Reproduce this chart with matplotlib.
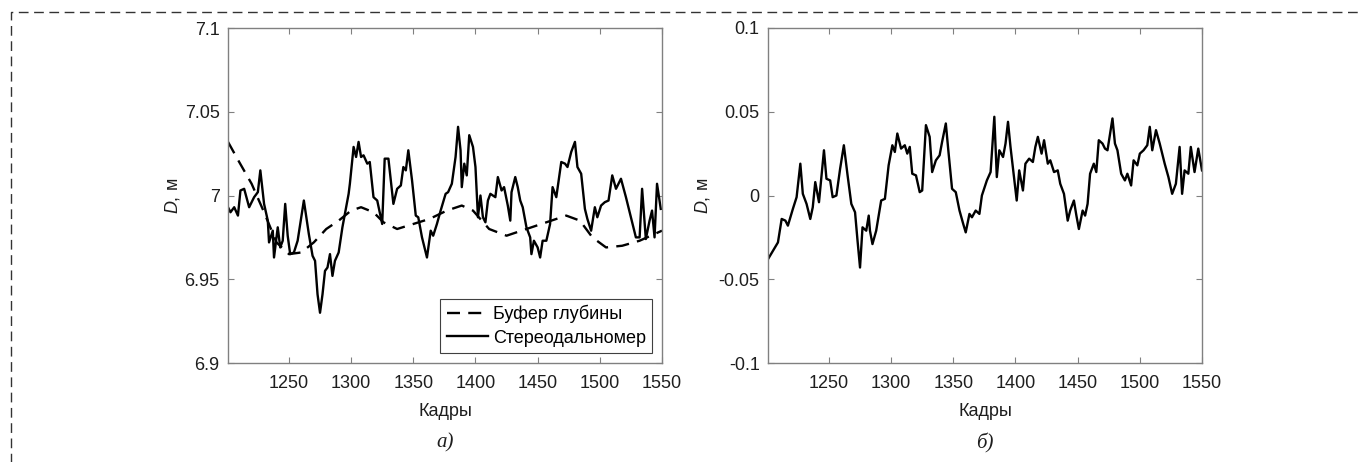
import numpy as np
import matplotlib
matplotlib.use("Agg")
import matplotlib.pyplot as plt
from matplotlib.lines import Line2D

plt.rcParams['font.family'] = ['Liberation Sans', 'DejaVu Sans']
plt.rcParams['mathtext.fontset'] = 'custom'
plt.rcParams['mathtext.it'] = 'Liberation Sans:italic'
plt.rcParams['mathtext.rm'] = 'Liberation Sans'

# ---------- data ----------
# буфер глубины (dashed, panel a)
buf_frames = [1201, 1210, 1220, 1230, 1240, 1250, 1260, 1270, 1280, 1290,
              1300, 1308, 1318, 1326, 1337, 1350, 1363, 1377, 1389, 1398,
              1411, 1425, 1441, 1457, 1473, 1484, 1494, 1505, 1518, 1532, 1550]
buf_depth = [7.032, 7.020, 7.007, 6.990, 6.972, 6.965, 6.966, 6.972, 6.980, 6.985,
             6.991, 6.993, 6.990, 6.984, 6.980, 6.983, 6.986, 6.991, 6.994, 6.991,
             6.980, 6.976, 6.980, 6.984, 6.988, 6.985, 6.975, 6.969, 6.970, 6.973, 6.979]

# стереодальномер (solid, panel a)
st_frames = [1201, 1203, 1206, 1209, 1211, 1214, 1218, 1222, 1225, 1227,
             1230, 1233, 1234, 1237, 1238, 1241, 1243, 1245, 1247, 1249,
             1251, 1254, 1257, 1262, 1266, 1269, 1271, 1273, 1275, 1277,
             1279, 1281, 1283, 1285, 1287, 1290, 1293, 1295, 1298, 1299,
             1302, 1304, 1306, 1308, 1310, 1313, 1315, 1318, 1321, 1325,
             1327, 1330, 1334, 1337, 1340, 1342, 1344, 1346, 1349, 1352,
             1354, 1357, 1361, 1364, 1366, 1369, 1372, 1376, 1378, 1381,
             1384, 1386, 1388, 1389, 1391, 1393, 1395, 1398, 1400, 1402,
             1404, 1406, 1408, 1410, 1412, 1416, 1418, 1421, 1423, 1426,
             1428, 1429, 1432, 1434, 1436, 1438, 1441, 1444, 1445, 1447,
             1450, 1452, 1454, 1457, 1460, 1462, 1465, 1469, 1472, 1474,
             1477, 1480, 1482, 1485, 1488, 1490, 1493, 1496, 1498, 1501,
             1504, 1507, 1510, 1513, 1517, 1521, 1525, 1529, 1532, 1534,
             1537, 1540, 1542, 1544, 1546, 1549]
st_depth = [6.993, 6.990, 6.993, 6.988, 7.003, 7.004, 6.993, 6.999, 7.002, 7.015,
            6.995, 6.985, 6.972, 6.979, 6.963, 6.981, 6.969, 6.973, 6.995, 6.976,
            6.965, 6.966, 6.973, 6.997, 6.977, 6.964, 6.961, 6.941, 6.930, 6.941,
            6.955, 6.957, 6.965, 6.952, 6.961, 6.966, 6.981, 6.989, 7.001, 7.007,
            7.029, 7.023, 7.032, 7.023, 7.024, 7.019, 7.020, 6.999, 6.997, 6.983,
            7.022, 7.022, 6.995, 7.004, 7.006, 7.017, 7.015, 7.027, 7.009, 6.988,
            6.987, 6.975, 6.963, 6.979, 6.976, 6.983, 6.991, 7.001, 7.002, 7.007,
            7.023, 7.041, 7.027, 7.005, 7.019, 7.012, 7.036, 7.029, 7.017, 6.987,
            7.000, 6.987, 6.984, 6.997, 7.001, 6.999, 7.011, 7.003, 7.005, 6.994,
            6.985, 7.002, 7.011, 7.005, 6.997, 6.993, 6.981, 6.975, 6.965, 6.973,
            6.969, 6.963, 6.973, 6.973, 6.983, 7.005, 6.999, 7.020, 7.019, 7.017,
            7.026, 7.032, 7.017, 7.013, 6.992, 6.986, 6.979, 6.993, 6.987, 6.994,
            6.996, 6.997, 7.012, 7.004, 7.010, 6.999, 6.987, 6.975, 6.975, 7.004,
            6.974, 6.985, 6.991, 6.975, 7.007, 6.992]

# разность (panel б)
df_frames = [1201, 1205, 1209, 1212, 1215, 1217, 1221, 1224, 1227, 1229,
             1232, 1235, 1237, 1239, 1242, 1246, 1248, 1251, 1253, 1256,
             1259, 1262, 1265, 1268, 1271, 1273, 1275, 1277, 1280, 1282,
             1283, 1285, 1288, 1292, 1295, 1298, 1301, 1303, 1305, 1308,
             1311, 1313, 1315, 1317, 1320, 1323, 1325, 1328, 1331, 1333,
             1336, 1339, 1341, 1344, 1346, 1349, 1352, 1355, 1358, 1360,
             1363, 1365, 1368, 1371, 1373, 1377, 1380, 1383, 1385, 1387,
             1390, 1392, 1394, 1396, 1399, 1401, 1403, 1406, 1408, 1411,
             1414, 1416, 1418, 1421, 1423, 1426, 1428, 1431, 1434, 1436,
             1439, 1442, 1444, 1447, 1449, 1451, 1454, 1456, 1458, 1460,
             1463, 1465, 1467, 1470, 1472, 1474, 1478, 1480, 1482, 1485,
             1488, 1490, 1493, 1495, 1498, 1500, 1503, 1506, 1508, 1510,
             1513, 1516, 1520, 1523, 1526, 1529, 1532, 1534, 1536, 1539,
             1541, 1544, 1547, 1550]
df_depth = [-0.038, -0.033, -0.028, -0.014, -0.015, -0.018, -0.008, -0.001, 0.019, 0.001,
            -0.005, -0.014, -0.007, 0.008, -0.004, 0.027, 0.010, 0.009, -0.001, 0.000,
            0.016, 0.030, 0.012, -0.005, -0.010, -0.027, -0.043, -0.019, -0.021, -0.012,
            -0.021, -0.029, -0.021, -0.003, -0.002, 0.018, 0.030, 0.026, 0.037, 0.028,
            0.030, 0.025, 0.029, 0.013, 0.012, 0.002, 0.003, 0.042, 0.035, 0.014,
            0.021, 0.024, 0.032, 0.043, 0.027, 0.004, 0.002, -0.009, -0.017, -0.022,
            -0.011, -0.013, -0.009, -0.011, 0.000, 0.009, 0.014, 0.047, 0.011, 0.027,
            0.023, 0.031, 0.044, 0.029, 0.010, -0.003, 0.015, 0.003, 0.019, 0.022,
            0.020, 0.029, 0.035, 0.025, 0.033, 0.019, 0.021, 0.014, 0.015, 0.007,
            0.001, -0.015, -0.009, -0.003, -0.012, -0.020, -0.009, -0.012, -0.005, 0.013,
            0.019, 0.014, 0.033, 0.031, 0.028, 0.027, 0.046, 0.031, 0.027, 0.013,
            0.009, 0.013, 0.006, 0.021, 0.018, 0.025, 0.027, 0.030, 0.041, 0.027,
            0.039, 0.031, 0.019, 0.011, 0.001, 0.007, 0.029, 0.001, 0.015, 0.013,
            0.029, 0.014, 0.028, 0.015]

x_ticks = [1250, 1300, 1350, 1400, 1450, 1500, 1550]
ya_ticks = [6.9, 6.95, 7.0, 7.05, 7.1]
ya_labels = ['6.9', '6.95', '7', '7.05', '7.1']
yb_ticks = [-0.1, -0.05, 0.0, 0.05, 0.1]
yb_labels = ['-0.1', '-0.05', '0', '0.05', '0.1']

FS = 13
TXT = '#1e1e1e'

W, H = 1362, 462
fig = plt.figure(figsize=(W / 100, H / 100), dpi=100)
ax1 = fig.add_axes([228 / W, 1 - 363 / H, 434 / W, 335 / H])
ax2 = fig.add_axes([768 / W, 1 - 363 / H, 434 / W, 335 / H])

ax1.plot(buf_frames, buf_depth, color='black', lw=1.7, ls=(0, (5.5, 3.5)),
         label='Буфер глубины')
ax1.plot(st_frames, st_depth, color='black', lw=1.7, label='Стереодальномер')
ax2.plot(df_frames, df_depth, color='black', lw=1.7)

for ax, yt, yl, lim, ylx in [(ax1, ya_ticks, ya_labels, (6.9, 7.1), -0.106),
                             (ax2, yb_ticks, yb_labels, (-0.1, 0.1), -0.13)]:
    ax.set_xlim(1201, 1550)
    ax.set_ylim(*lim)
    ax.set_xticks(x_ticks)
    ax.set_xticklabels([str(t) for t in x_ticks])
    ax.set_yticks(yt)
    ax.set_yticklabels(yl)
    ax.tick_params(direction='in', top=True, right=True, length=4, width=0.8,
                   color='#808080', labelcolor=TXT, labelsize=FS)
    ax.tick_params(axis='x', pad=9)
    ax.tick_params(axis='y', pad=6)
    for s in ax.spines.values():
        s.set_color('#808080')
        s.set_linewidth(1.0)
    ax.set_xlabel('Кадры', fontsize=FS, color=TXT)
    ax.xaxis.set_label_coords(0.5, -0.12)
    ax.set_ylabel('$D$, м', fontsize=FS, color=TXT)
    ax.yaxis.set_label_coords(ylx, 0.5)

leg = ax1.legend(loc='lower right', fontsize=FS, fancybox=False,
                 edgecolor='#404040', framealpha=1, handlelength=2.3,
                 handletextpad=0.25, borderpad=0.35, labelspacing=0.35,
                 borderaxespad=0.55)
leg.get_frame().set_linewidth(0.8)

fig.text((228 + 217) / W, 1 - 443 / H, 'а)', fontsize=15, style='italic',
         family='Liberation Serif', ha='center', va='center', color=TXT)
fig.text((768 + 217) / W, 1 - 443 / H, 'б)', fontsize=15, style='italic',
         family='Liberation Serif', ha='center', va='center', color=TXT)

# dashed frame around the figure
x0, y0 = 11 / W, 1 - 12 / H
fig.add_artist(Line2D([x0, x0, 1.01], [-0.01, y0, y0], transform=fig.transFigure,
                      color='#333333', lw=1.0, ls=(0, (7, 4))))

fig.savefig('out.png', dpi=100)
